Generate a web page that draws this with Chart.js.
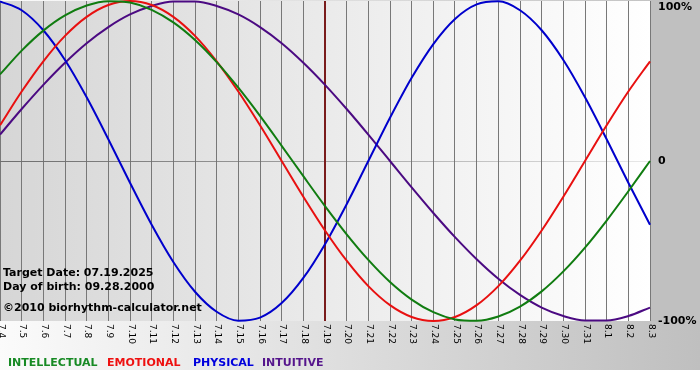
<!DOCTYPE html>
<html>
<head>
<meta charset="utf-8">
<script src="https://cdn.jsdelivr.net/npm/chart.js@4/dist/chart.umd.min.js"></script>
<style>
html,body{margin:0;padding:0;background:#ffffff;}
#wrap{position:relative;width:700px;height:380px;}
</style>
</head>
<body>
<div id="wrap"><canvas id="c" width="700" height="380"></canvas></div>
<script>
// Day labels (month.day)
const days = ['7.4','7.5','7.6','7.7','7.8','7.9','7.10','7.11','7.12','7.13','7.14','7.15','7.16','7.17','7.18','7.19','7.20','7.21','7.22','7.23','7.24','7.25','7.26','7.27','7.28','7.29','7.30','7.31','8.1','8.2','8.3'];

// Series values in percent, read per day
const intellectual = [54.1,69.0,81.5,91.0,97.2,99.9,99.0,94.5,86.6,75.6,61.8,45.8,28.2,9.5,-9.5,-28.2,-45.8,-61.8,-75.6,-86.6,-94.5,-99.0,-99.9,-97.2,-91.0,-81.5,-69.0,-54.1,-37.2,-18.9,0];
const emotional = [22.3,43.4,62.3,78.2,90.1,97.5,100,97.5,90.1,78.2,62.3,43.4,22.3,0,-22.3,-43.4,-62.3,-78.2,-90.1,-97.5,-100,-97.5,-90.1,-78.2,-62.3,-43.4,-22.3,0,22.3,43.4,62.3];
const physical = [99.8,94.2,81.7,63.1,39.8,13.6,-13.6,-39.8,-63.1,-81.7,-94.2,-99.8,-97.9,-88.8,-73.1,-52.0,-27.0,0,27.0,52.0,73.1,88.8,97.9,99.8,94.2,81.7,63.1,39.8,13.6,-13.6,-39.8];
const intuitive = [16.5,32.5,47.6,61.4,73.6,83.7,91.6,96.9,99.7,99.7,96.9,91.6,83.7,73.6,61.4,47.6,32.5,16.5,0,-16.5,-32.5,-47.6,-61.4,-73.6,-83.7,-91.6,-96.9,-99.7,-99.7,-96.9,-91.6];

const yTicks = [100, 0, -100];
const yTickLabels = ['100%', '0', '-100%'];
const targetDay = '7.19';
const infoLines = ['Target Date: 07.19.2025', 'Day of birth: 09.28.2000', '\u00A92010 biorhythm-calculator.net'];
const legendNames = ['INTELLECTUAL', 'EMOTIONAL', 'PHYSICAL', 'INTUITIVE'];

const lineColors = ['#107c10', '#e81010', '#0000cc', '#4b0a82'];
const legendColors = ['#178a24', '#ee1010', '#0000dd', '#55158c'];

const bgPlugin = {
  id: 'bg',
  beforeDraw(chart) {
    const ctx = chart.ctx, a = chart.chartArea;
    ctx.save();
    let g = ctx.createLinearGradient(0, 0, 700, 0);
    g.addColorStop(0, '#fbfbfb');
    g.addColorStop(1, '#bfbfbf');
    ctx.fillStyle = g;
    ctx.fillRect(0, 0, 700, 370);
    ctx.fillStyle = '#c0c0c0';
    ctx.fillRect(a.right, 0, 700 - a.right, a.bottom);
    g = ctx.createLinearGradient(a.left, 0, a.right, 0);
    g.addColorStop(0, '#d6d6d6');
    g.addColorStop(1, '#ffffff');
    ctx.fillStyle = g;
    ctx.fillRect(a.left, a.top, a.right - a.left, a.bottom - a.top);
    ctx.restore();
  },
  beforeDatasetsDraw(chart) {
    const ctx = chart.ctx, a = chart.chartArea, x = chart.scales.x, y = chart.scales.y;
    ctx.save();
    // zero line, fading toward the right
    const zy = Math.round(y.getPixelForValue(0)) + 0.5;
    const g = ctx.createLinearGradient(a.left, 0, a.right, 0);
    g.addColorStop(0, 'rgba(110,110,110,1)');
    g.addColorStop(1, 'rgba(110,110,110,0.15)');
    ctx.strokeStyle = g;
    ctx.lineWidth = 1;
    ctx.beginPath();
    ctx.moveTo(a.left, zy);
    ctx.lineTo(a.right, zy);
    ctx.stroke();
    // target day marker
    const px = x.getPixelForValue(days.indexOf(targetDay));
    ctx.strokeStyle = '#7a1c1c';
    ctx.lineWidth = 2;
    ctx.beginPath();
    ctx.moveTo(px, a.top);
    ctx.lineTo(px, a.bottom);
    ctx.stroke();
    ctx.restore();
  },
  afterDatasetsDraw(chart) {
    const ctx = chart.ctx, a = chart.chartArea, x = chart.scales.x, y = chart.scales.y;
    ctx.save();
    ctx.fillStyle = '#000000';
    ctx.font = '9px "DejaVu Sans"';
    ctx.textAlign = 'left';
    ctx.textBaseline = 'middle';
    days.forEach((d, i) => {
      const px = x.getPixelForValue(i);
      ctx.save();
      ctx.translate(px + 1, a.bottom + 3);
      ctx.rotate(Math.PI / 2);
      ctx.fillText(d, 0, 0);
      ctx.restore();
    });
    ctx.font = 'bold 11px "DejaVu Sans"';
    ctx.textBaseline = 'middle';
    yTicks.forEach((v, i) => {
      let py = y.getPixelForValue(v);
      py = Math.max(py + 0.5, a.top + 6);
      ctx.fillText(yTickLabels[i], a.right + 8, py);
    });
    ctx.textBaseline = 'alphabetic';
    const infoY = [276, 290, 311];
    infoLines.forEach((t, i) => ctx.fillText(t, 3, infoY[i]));
    const legX = [8, 107, 193, 262];
    legendNames.forEach((t, i) => {
      ctx.fillStyle = legendColors[i];
      ctx.fillText(t, legX[i], 366);
    });
    ctx.restore();
  }
};

const mk = (label, data, color) => ({
  label, data, borderColor: color, backgroundColor: color,
  borderWidth: 2, pointRadius: 0, fill: false,
  cubicInterpolationMode: 'monotone', clip: 4
});

new Chart(document.getElementById('c'), {
  type: 'line',
  data: {
    labels: days,
    datasets: [
      mk(legendNames[0], intellectual, lineColors[0]),
      mk(legendNames[1], emotional, lineColors[1]),
      mk(legendNames[2], physical, lineColors[2]),
      mk(legendNames[3], intuitive, lineColors[3])
    ]
  },
  options: {
    responsive: false,
    animation: false,
    devicePixelRatio: 1,
    layout: { padding: { left: 0, top: 1, right: 50, bottom: 59 } },
    plugins: { legend: { display: false }, tooltip: { enabled: false } },
    scales: {
      x: {
        offset: false,
        ticks: { display: false },
        grid: { color: '#787878', lineWidth: 1, drawTicks: false, offset: false },
        border: { display: false },
        afterFit(s) { s.height = 0; }
      },
      y: {
        min: -100, max: 100,
        ticks: { display: false, stepSize: 100 },
        grid: { display: false },
        border: { display: false },
        afterFit(s) { s.width = 0; }
      }
    }
  },
  plugins: [bgPlugin]
});
</script>
</body>
</html>
